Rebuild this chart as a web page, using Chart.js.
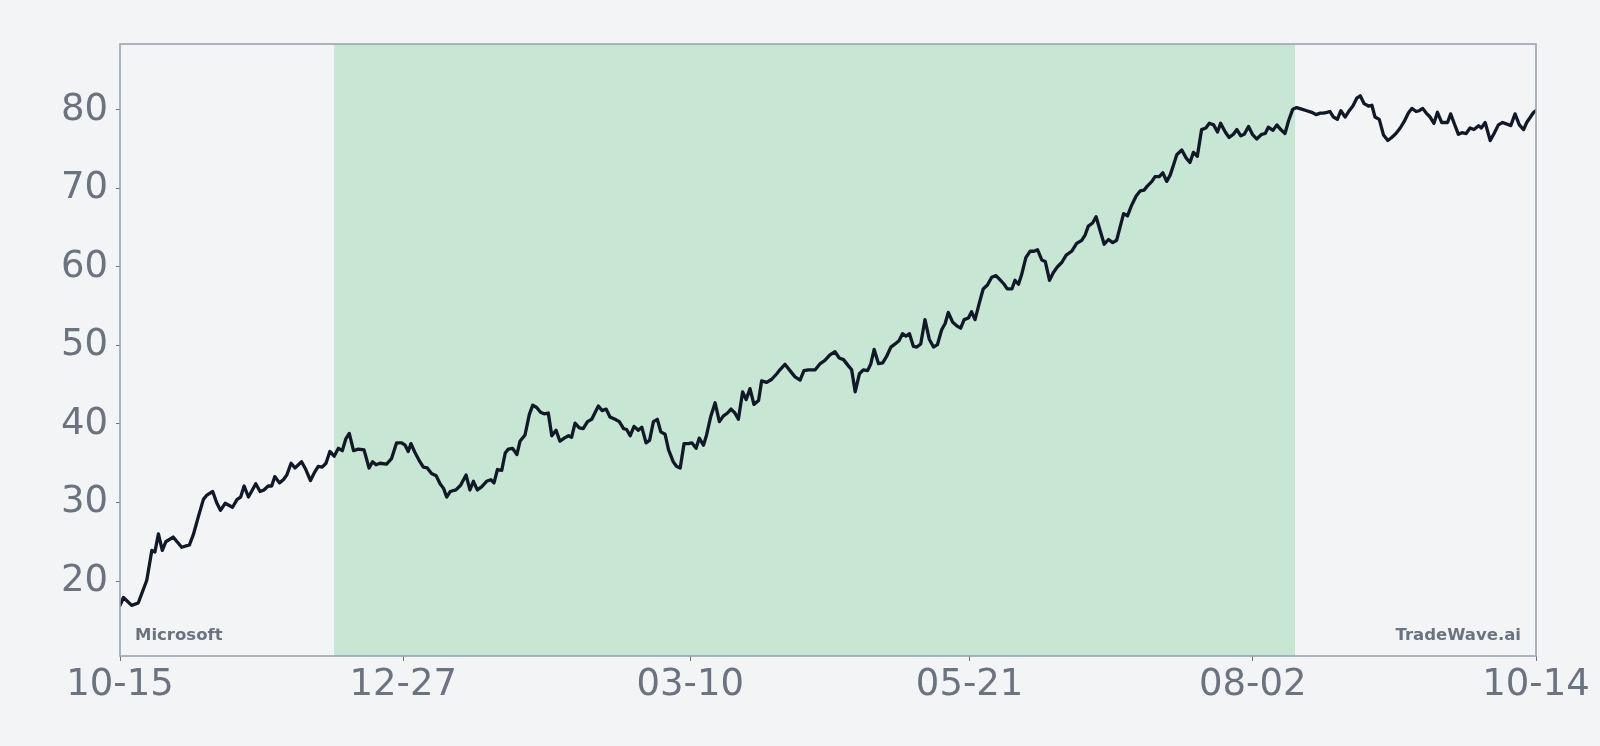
<!DOCTYPE html>
<html><head><meta charset="utf-8">
<script src="https://cdn.jsdelivr.net/npm/chart.js@4.4.1/dist/chart.umd.min.js"></script>
<style>html,body{margin:0;padding:0;background:#f3f4f6;}canvas{display:block;}</style>
</head><body>
<canvas id="c" width="1600" height="746"></canvas>
<script>
// Day offsets from 10-15 (first date) and closing values
const days = [0,0.9,3.0,4.7,6.9,8.2,9.0,9.9,10.9,11.8,13.7,15.9,17.9,18.9,
20.2,21.5,22.3,23.9,24.9,25.9,27.1,29.0,30.2,31.1,32.0,33.1,33.9,35.0,36.1,37.1,38.2,39.1,39.9,41.1,42.1,43.0,44.1,45.1,46.8,47.9,49.1,50.1,51.1,52.1,53.1,54.1,55.2,56.3,57.3,58.2,59.1,
60.2,61.4,62.9,64.2,65.1,66.0,67.0,68.7,70.0,71.3,72.6,73.5,74.3,75.0,76.0,77.3,78.2,79.2,80.3,81.5,82.5,83.4,84.2,85.1,86.6,87.8,89.2,90.2,91.1,92.1,93.2,94.5,95.6,96.4,97.3,98.4,99.3,100.1,101.2,102.3,103.1,104.4,105.5,106.4,107.4,108.4,109.3,110.4,111.3,112.4,113.4,114.5,115.6,116.4,117.3,118.4,
119.4,120.5,121.6,123.3,124.3,125.3,126.3,127.6,128.7,129.8,130.6,131.5,132.5,133.6,134.5,135.6,136.5,137.5,138.5,139.4,140.5,141.4,142.6,143.5,144.4,145.4,146.5,147.4,148.5,149.3,150.4,151.2,152.3,153.4,154.5,155.5,156.6,157.5,158.5,159.4,160.5,161.4,162.4,163.4,164.6,165.4,166.7,168.0,169.3,170.1,171.4,172.7,174.0,175.3,
176.3,177.4,179.2,180.5,181.7,183.0,184.3,185.4,186.5,187.6,188.6,189.5,190.6,191.6,192.7,193.5,194.4,195.5,196.6,197.6,198.7,199.8,200.8,201.7,202.6,203.5,204.5,205.4,206.4,207.5,208.6,209.7,210.7,211.8,212.7,213.5,214.6,215.7,216.7,217.6,218.7,219.5,220.4,221.5,222.5,223.6,224.7,225.8,226.8,227.9,228.7,229.9,230.7,231.6,232.4,233.5,
234.6,235.6,236.5,237.6,238.5,239.6,240.6,241.6,242.8,243.9,245.3,246.6,247.9,248.8,249.6,250.7,251.6,252.6,253.7,254.8,255.9,256.9,257.8,258.7,259.7,260.8,261.9,263.0,264.0,264.8,266.0,266.8,267.9,268.8,269.8,270.7,271.5,272.4,273.7,274.8,275.8,276.7,277.7,278.8,279.9,280.8,281.9,282.9,283.7,284.9,285.9,287.0,287.9,288.9,289.8,290.9,291.9,293.0,
294.3,295.2,296.0,297.2,298.2,299.2,300.3,301.2,302.3,303.3,304.6,305.9,307.2,308.3,309.4,310.2,311.1,311.9,312.8,313.8,314.7,315.8,316.7,317.8,318.8,319.7,320.7,321.8,322.7,323.5,324.6,325.7,326.8,327.8,328.9,330.0,331.0,332.1,333.0,334.1,334.9,335.8,336.7,337.7,338.7,339.6,
340.7,342.2,343.0,343.9,345.0,345.9,347.0,348.0,349.0,350.2,350.9,351.9,353.2,354.2,355.3,356.4,357.5,358.5,359.6,360.7,361.8,362.6,363.7,364.4,365.0];
const prices = [16.9,17.9,16.9,17.2,20.1,23.9,23.7,26.0,23.9,25.0,25.6,24.3,24.6,25.9,
28.2,30.4,30.9,31.4,30.0,29.0,29.9,29.4,30.4,30.7,32.1,30.7,31.4,32.4,31.4,31.6,32.1,32.1,33.3,32.5,32.9,33.5,35.0,34.4,35.2,34.2,32.8,33.8,34.6,34.5,35.0,36.5,35.9,36.9,36.6,38.1,38.8,
36.6,36.8,36.7,34.4,35.2,34.8,35.0,34.9,35.6,37.6,37.6,37.3,36.5,37.5,36.4,35.2,34.5,34.4,33.7,33.4,32.4,31.8,30.7,31.4,31.6,32.2,33.5,31.6,32.7,31.6,32.0,32.7,32.9,32.5,34.2,34.1,36.3,36.8,36.9,36.1,37.8,38.6,41.2,42.4,42.1,41.5,41.3,41.4,38.5,39.2,37.8,38.2,38.5,38.3,40.1,39.5,
39.4,40.3,40.6,42.3,41.7,41.9,40.9,40.6,40.3,39.4,39.3,38.5,39.7,39.2,39.6,37.6,37.9,40.3,40.6,39.0,38.7,36.7,35.2,34.6,34.4,37.5,37.5,37.6,36.9,38.2,37.3,38.6,41.0,42.7,40.3,41.0,41.4,41.9,41.4,40.6,44.1,43.1,44.5,42.5,43.0,45.5,45.3,45.7,46.4,46.9,47.6,46.8,46.0,45.6,
46.8,46.9,46.9,47.7,48.1,48.8,49.2,48.4,48.2,47.5,46.9,44.1,46.4,46.9,46.8,47.6,49.5,47.7,47.8,48.6,49.8,50.2,50.6,51.5,51.2,51.5,49.9,49.8,50.2,53.3,50.8,49.8,50.1,52.0,52.8,54.2,53.0,52.5,52.2,53.3,53.5,54.3,53.3,55.4,57.2,57.7,58.7,58.9,58.4,57.8,57.2,57.2,58.3,57.8,59.0,61.2,
62.0,62.0,62.2,60.9,60.7,58.3,59.3,60.0,60.6,61.5,62.0,63.0,63.4,64.1,65.2,65.6,66.4,64.7,62.9,63.5,63.1,63.4,65.1,66.8,66.5,67.9,69.0,69.7,69.8,70.3,70.9,71.5,71.5,72.0,70.9,71.7,72.9,74.3,74.9,73.9,73.3,74.6,74.1,77.5,77.7,78.3,78.1,77.2,78.3,77.2,76.5,76.9,77.5,76.7,76.9,77.9,76.9,76.3,
76.9,77.0,77.8,77.4,78.1,77.5,77.0,78.6,80.1,80.3,80.1,79.9,79.7,79.4,79.6,79.6,79.7,79.8,79.1,78.8,79.9,79.1,79.8,80.5,81.5,81.8,80.8,80.5,80.6,79.1,78.8,76.8,76.1,76.5,77.0,77.7,78.5,79.6,80.2,79.8,79.9,80.2,79.6,79.1,78.3,79.7,
78.4,78.4,79.5,78.3,76.9,77.1,77.0,77.7,77.5,78.0,77.7,78.4,76.1,77.0,78.1,78.4,78.2,78.0,79.5,78.1,77.5,78.4,79.2,79.7,79.9];

const xTickDays = [0, 73, 147, 219, 292, 365];
const xTickLabels = ['10-15', '12-27', '03-10', '05-21', '08-02', '10-14'];
const yTicks = [20, 30, 40, 50, 60, 70, 80];
const shadeStartDay = 55.2;
const shadeEndDay = 302.9;
const yMin = 10.45;
const yMax = 88.4;
const leftLabel = 'Microsoft';
const rightLabel = 'TradeWave.ai';

const FONT = "'DejaVu Sans', sans-serif";
const GRAY = '#6b7280';

const points = days.map((d, i) => ({x: d, y: prices[i]}));

const decor = {
  id: 'decor',
  beforeDraw(chart) {
    const ctx = chart.ctx;
    ctx.save();
    ctx.fillStyle = '#f3f4f6';
    ctx.fillRect(0, 0, chart.width, chart.height);
    ctx.restore();
  },
  beforeDatasetsDraw(chart) {
    const {ctx, chartArea, scales} = chart;
    const x0 = scales.x.getPixelForValue(shadeStartDay);
    const x1 = scales.x.getPixelForValue(shadeEndDay);
    ctx.save();
    ctx.fillStyle = '#c8e6d4';
    ctx.fillRect(x0, chartArea.top, x1 - x0, chartArea.bottom - chartArea.top);
    ctx.restore();
  },
  afterDatasetsDraw(chart) {
    const {ctx, chartArea} = chart;
    ctx.save();
    ctx.font = "bold 16.5px " + FONT;
    ctx.fillStyle = GRAY;
    ctx.textBaseline = 'alphabetic';
    ctx.textAlign = 'left';
    ctx.fillText(leftLabel, chartArea.left + 15, chartArea.bottom - 16);
    ctx.textAlign = 'right';
    ctx.fillText(rightLabel, chartArea.right - 15, chartArea.bottom - 16);
    ctx.strokeStyle = '#9ca3af';
    ctx.lineWidth = 1.6;
    ctx.strokeRect(chartArea.left, chartArea.top, chartArea.right - chartArea.left, chartArea.bottom - chartArea.top);
    ctx.restore();
  }
};

new Chart(document.getElementById('c'), {
  type: 'line',
  data: {
    datasets: [{
      data: points,
      borderColor: '#111827',
      borderWidth: 3.3,
      pointRadius: 0,
      tension: 0,
      fill: false,
      borderJoinStyle: 'round',
      borderCapStyle: 'round'
    }]
  },
  options: {
    responsive: false,
    animation: false,
    devicePixelRatio: 1,
    layout: {padding: {top: 44, right: 64, bottom: 0, left: 0}},
    plugins: {legend: {display: false}, tooltip: {enabled: false}},
    scales: {
      x: {
        type: 'linear',
        min: 0,
        max: 365,
        afterBuildTicks: (ax) => { ax.ticks = xTickDays.map(v => ({value: v})); },
        afterFit: (s) => { s.height = 90; },
        ticks: {
          autoSkip: false,
          maxRotation: 0,
          font: {family: FONT, size: 37},
          color: GRAY,
          padding: 2,
          callback: (v, i) => xTickLabels[i]
        },
        grid: {drawOnChartArea: false, tickLength: 5, tickColor: GRAY, tickWidth: 1},
        border: {display: false}
      },
      y: {
        type: 'linear',
        min: yMin,
        max: yMax,
        afterBuildTicks: (ax) => { ax.ticks = yTicks.map(v => ({value: v})); },
        afterFit: (s) => { s.width = 120; },
        ticks: {
          font: {family: FONT, size: 37},
          color: GRAY,
          padding: 8,
          callback: (v) => String(v)
        },
        grid: {drawOnChartArea: false, tickLength: 4, tickColor: GRAY, tickWidth: 1},
        border: {display: false}
      }
    }
  },
  plugins: [decor]
});
</script>
</body></html>
